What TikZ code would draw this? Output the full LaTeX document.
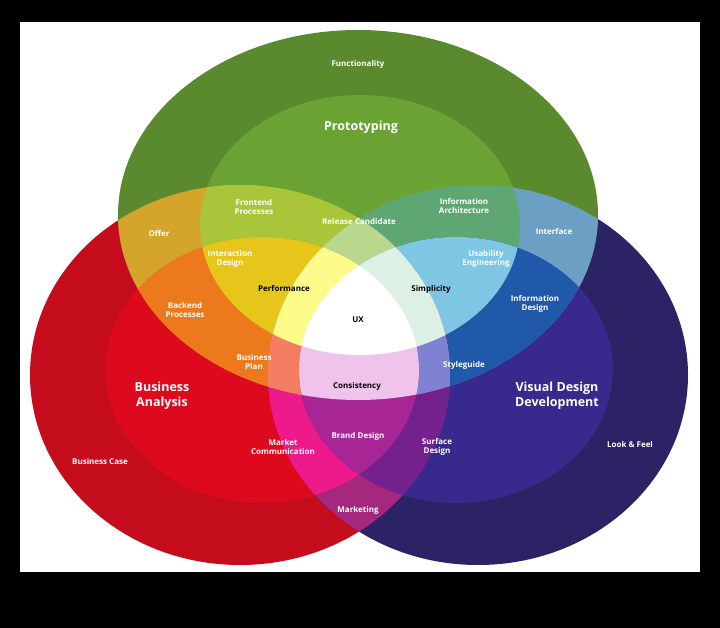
\documentclass[tikz,border=0pt]{standalone}
\usepackage{fontspec}
\setmainfont{Open Sans}
\usetikzlibrary{positioning}

% the six ellipses
\newcommand\Gout{(358,215) ellipse [x radius=240pt, y radius=185pt]}
\newcommand\Gin{(360,225) ellipse [x radius=160pt, y radius=130pt]}
\newcommand\Rout{(240,375) ellipse [x radius=210pt, y radius=190pt]}
\newcommand\Rin{(262,370) ellipse [x radius=157pt, y radius=133pt]}
\newcommand\Bout{(478,375) ellipse [x radius=210pt, y radius=190pt]}
\newcommand\Bin{(456,370) ellipse [x radius=157pt, y radius=133pt]}
\newcommand\patch[3]{\begin{scope}#2\fill[#1] #3;\end{scope}}

\definecolor{gA}{HTML}{5B8A2E}
\definecolor{gB}{HTML}{6AA234}
\definecolor{rA}{HTML}{C40C1C}
\definecolor{rB}{HTML}{DC0A1C}
\definecolor{bA}{HTML}{2C2266}
\definecolor{bB}{HTML}{372A8C}
\definecolor{offerC}{HTML}{D4A52A}
\definecolor{ifaceC}{HTML}{6B9FC3}
\definecolor{mktC}{HTML}{A3287E}
\definecolor{frontC}{HTML}{A9C63B}
\definecolor{archC}{HTML}{5EA773}
\definecolor{backC}{HTML}{EC7A1C}
\definecolor{idesC}{HTML}{2058AA}
\definecolor{commC}{HTML}{EC1A8A}
\definecolor{surfC}{HTML}{74218E}
\definecolor{ringC}{HTML}{C8C070}
\definecolor{interC}{HTML}{E6C61A}
\definecolor{usabC}{HTML}{7EC6E4}
\definecolor{relC}{HTML}{B9D88E}
\definecolor{planC}{HTML}{F57D62}
\definecolor{styleC}{HTML}{7F82D2}
\definecolor{brandC}{HTML}{A82596}
\definecolor{perfC}{HTML}{FDFB8A}
\definecolor{simpC}{HTML}{DCF0E4}
\definecolor{consC}{HTML}{EFC3EA}

\begin{document}
\begin{tikzpicture}[x=1pt,y=-1pt,
    lbl/.style={text=white, font=\bfseries\fontsize{8}{9}\selectfont, align=center, inner sep=0pt},
    dark/.style={lbl, text=black},
    big/.style={lbl, font=\bfseries\fontsize{12.5}{14.5}\selectfont}]

    % Background
    \fill[black] (0,0) rectangle (720,628);
    \fill[white] (20,22) rectangle (700,572);

    % Single sets
    \fill[rA] \Rout;
    \fill[bA] \Bout;
    \fill[gA] \Gout;
    \patch{rB}{\clip \Rin;}{\Rin}
    \patch{bB}{\clip \Bin;}{\Bin}

    % Two outer rings
    \patch{gB}{\clip \Gin;}{\Gin}
    \patch{offerC}{\clip \Gout;}{\Rout}
    \patch{ifaceC}{\clip \Gout;}{\Bout}
    \patch{mktC}{\clip \Rout;}{\Bout}

    % Sum three
    \patch{frontC}{\clip \Gin;}{\Rout}
    \patch{archC}{\clip \Gin;}{\Bout}
    \patch{backC}{\clip \Gout;}{\Rin}
    \patch{idesC}{\clip \Gout;}{\Bin}
    \patch{commC}{\clip \Rin;}{\Bout}
    \patch{surfC}{\clip \Rout;}{\Bin}
    \patch{ringC}{\clip \Gout; \clip \Rout;}{\Bout}

    % Sum four
    \patch{interC}{\clip \Gin;}{\Rin}
    \patch{usabC}{\clip \Gin;}{\Bin}
    \patch{relC}{\clip \Gin; \clip \Rout;}{\Bout}
    \patch{planC}{\clip \Gout; \clip \Rin;}{\Bout}
    \patch{styleC}{\clip \Gout; \clip \Rout;}{\Bin}
    \patch{brandC}{\clip \Rin;}{\Bin}

    % Sum five and centre
    \patch{perfC}{\clip \Gin; \clip \Rin;}{\Bout}
    \patch{simpC}{\clip \Gin; \clip \Bin;}{\Rout}
    \patch{consC}{\clip \Gout; \clip \Rin;}{\Bin}
    \patch{white}{\clip \Gin; \clip \Rin;}{\Bin}

    % Labels
    \node[lbl] (func) at (358,64) {Functionality};
    \node[big] (proto) at (361,127) {Prototyping};
    \node[lbl] (front) at (254,207) {Frontend\\Processes};
    \node[lbl] (infoarch) at (464,206) {Information\\Architecture};
    \node[lbl] (offer) at (159,233) {Offer};
    \node[lbl] (release) at (359,222) {Release Candidate};
    \node[lbl] (iface) at (554,231) {Interface};
    \node[lbl] (interact) at (230,259) {Interaction\\Design};
    \node[lbl] (usab) at (486,259) {Usability\\Engineering};
    \node[dark] (perf) at (284,288) {Performance};
    \node[dark] (simple) at (431,289) {Simplicity};
    \node[lbl] (backend) at (185,310) {Backend\\Processes};
    \node[lbl] (infodes) at (535,304) {Information\\Design};
    \node[dark] (ux) at (358,320) {UX};
    \node[lbl] (plan) at (254,362) {Business\\Plan};
    \node[lbl] (style) at (464,365) {Styleguide};
    \node[dark] (consist) at (357,386) {Consistency};
    \node[big] (analysis) at (162,396) {Business\\Analysis};
    \node[big] (visual) at (557,396) {Visual Design\\Development};
    \node[lbl] (brand) at (358,436) {Brand Design};
    \node[lbl] (market) at (283,447) {Market\\Communication};
    \node[lbl] (surface) at (437,447) {Surface\\Design};
    \node[lbl] (case) at (100,461) {Business Case};
    \node[lbl] (look) at (630,444) {Look \& Feel};
    \node[lbl] (marketing) at (358,510) {Marketing};
\end{tikzpicture}
\end{document}
